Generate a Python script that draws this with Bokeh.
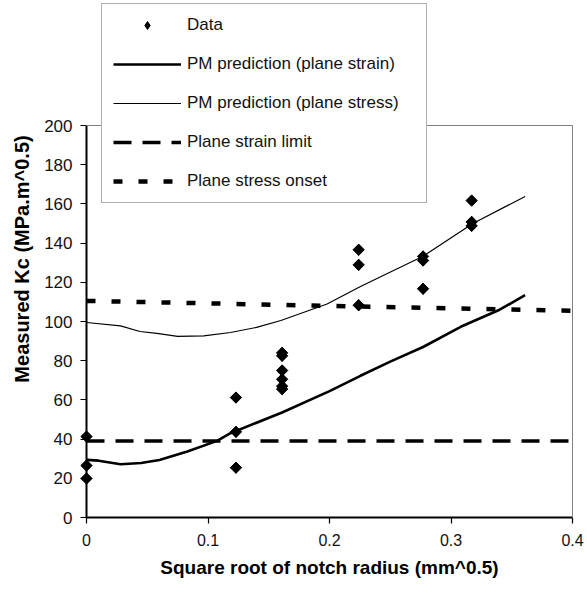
import math
from bokeh.plotting import figure
from bokeh.models import Range1d, FixedTicker, NumeralTickFormatter, Legend, LegendItem
from bokeh.embed import file_html
from bokeh.resources import INLINE

# ---- data ----
data_x = [0, 0, 0,
          0.123, 0.123, 0.123,
          0.161, 0.161, 0.161, 0.161, 0.161, 0.161,
          0.224, 0.224, 0.224,
          0.277, 0.277, 0.277,
          0.317, 0.317, 0.317]
data_y = [41.3, 26.5, 19.9,
          61.2, 43.7, 25.4,
          84.0, 82.5, 75.0, 70.5, 67.0, 65.5,
          136.6, 128.9, 108.3,
          133.2, 131.1, 116.7,
          161.7, 150.8, 148.8]

strain_x = [0, 0.01, 0.028, 0.045, 0.06, 0.083, 0.1075, 0.1185, 0.161, 0.2, 0.2255, 0.25, 0.277, 0.308, 0.34, 0.361]
strain_y = [29.4, 29.0, 27.2, 27.8, 29.3, 33.7, 39.1, 43.0, 53.6, 64.5, 72.3, 79.5, 87.0, 97.3, 106.0, 113.5]

stress_x = [0, 0.028, 0.044, 0.058, 0.075, 0.0965, 0.1185, 0.14, 0.16, 0.198, 0.2255, 0.277, 0.318, 0.361]
stress_y = [99.5, 97.8, 94.9, 93.9, 92.4, 92.7, 94.4, 97.0, 100.5, 108.9, 117.9, 133.3, 150.0, 163.8]

strain_limit_x = [0, 0.4]
strain_limit_y = [39, 39]

stress_onset_x = [0, 0.4]
stress_onset_y = [110.5, 105.5]

x_ticks = [0, 0.1, 0.2, 0.3, 0.4]
y_ticks = [0, 20, 40, 60, 80, 100, 120, 140, 160, 180, 200]

labels = ["Data", "PM prediction (plane strain)", "PM prediction (plane stress)",
          "Plane strain limit", "Plane stress onset"]

# ---- layout (pixels) ----
W, H = 587, 596
left, right, bottom = 86, 15, 79
plot_top = 125                      # pixel row of y = 200
frame_h = H - bottom                # frame reaches the top of the page so the legend is not clipped
x_lo, x_hi = x_ticks[0], x_ticks[-1]
y_lo, y_hi = y_ticks[0], y_ticks[-1]
y_top = y_lo + (y_hi - y_lo) * frame_h / (frame_h - plot_top)

p = figure(width=W, height=H, output_backend="svg", toolbar_location=None,
           x_range=Range1d(x_lo, x_hi), y_range=Range1d(y_lo, y_top),
           min_border_left=left, min_border_right=right, min_border_top=0,
           min_border_bottom=bottom)
p.background_fill_color = "white"
p.border_fill_color = "white"
p.outline_line_color = None
p.xgrid.visible = False
p.ygrid.visible = False

# plot-area border (top and right), grey like the reference
p.line([x_lo, x_hi, x_hi], [y_hi, y_hi, y_lo], line_color="#808080", line_width=1,
       level="overlay")

r_strain = p.line(strain_x, strain_y, line_color="black", line_width=2.6)
r_stress = p.line(stress_x, stress_y, line_color="black", line_width=1.2)
r_limit = p.line(strain_limit_x, strain_limit_y, line_color="black", line_width=3.5,
                 line_dash="18 11")
r_onset = p.line(stress_onset_x, stress_onset_y, line_color="black", line_width=4.5,
                 line_dash="9 16")
# diamond key for the legend (legend glyphs ignore marker angle); it lies
# fully underneath the rotated-square data markers drawn on top of it
r_data_key = p.scatter(data_x, data_y, marker="diamond", size=11,
                       fill_color="black", line_color="black")
r_data = p.scatter(data_x, data_y, marker="square", size=8, angle=math.pi / 4,
                   fill_color="black", line_color="black", level="overlay")

# axes
for ax in (p.xaxis[0], p.yaxis[0]):
    ax.axis_line_color = "black"
    ax.axis_line_width = 2
    ax.major_tick_line_color = "black"
    ax.major_tick_line_width = 1.2
    ax.major_tick_in = 0
    ax.major_tick_out = 6
    ax.minor_tick_line_color = None
    ax.major_label_text_color = "#111111"
    ax.major_label_text_font = "Liberation Sans"
    ax.axis_label_text_font = "Liberation Sans"
    ax.axis_label_text_font_style = "bold"
    ax.axis_label_text_color = "black"

p.yaxis.bounds = (y_lo, y_hi)
p.xaxis.ticker = FixedTicker(ticks=x_ticks)
p.yaxis.ticker = FixedTicker(ticks=y_ticks)
p.xaxis.formatter = NumeralTickFormatter(format="0.[0]")
p.xaxis.major_label_text_font_size = "16px"
p.yaxis.major_label_text_font_size = "17px"
p.xaxis.major_label_standoff = 10
p.yaxis.major_label_standoff = 8
p.xaxis.axis_label = "Square root of notch radius (mm^0.5)"
p.yaxis.axis_label = "Measured Kc (MPa.m^0.5)"
p.xaxis.axis_label_text_font_size = "19px"
p.yaxis.axis_label_text_font_size = "20px"
p.xaxis.axis_label_standoff = 8
p.yaxis.axis_label_standoff = 8

legend = Legend(items=[LegendItem(label=labels[0], renderers=[r_data_key]),
                       LegendItem(label=labels[1], renderers=[r_strain]),
                       LegendItem(label=labels[2], renderers=[r_stress]),
                       LegendItem(label=labels[3], renderers=[r_limit]),
                       LegendItem(label=labels[4], renderers=[r_onset])],
                location=(15, 314), orientation="vertical",
                padding=11, spacing=19, margin=0,
                glyph_width=68, glyph_height=20, label_standoff=6, label_width=228,
                label_text_font="Liberation Sans", label_text_font_size="17px",
                label_text_color="#111111",
                border_line_color="#606060", border_line_width=1,
                background_fill_color="white", background_fill_alpha=1.0,
                level="overlay")
p.add_layout(legend, "center")

open("out.html", "w").write(file_html(p, INLINE))
